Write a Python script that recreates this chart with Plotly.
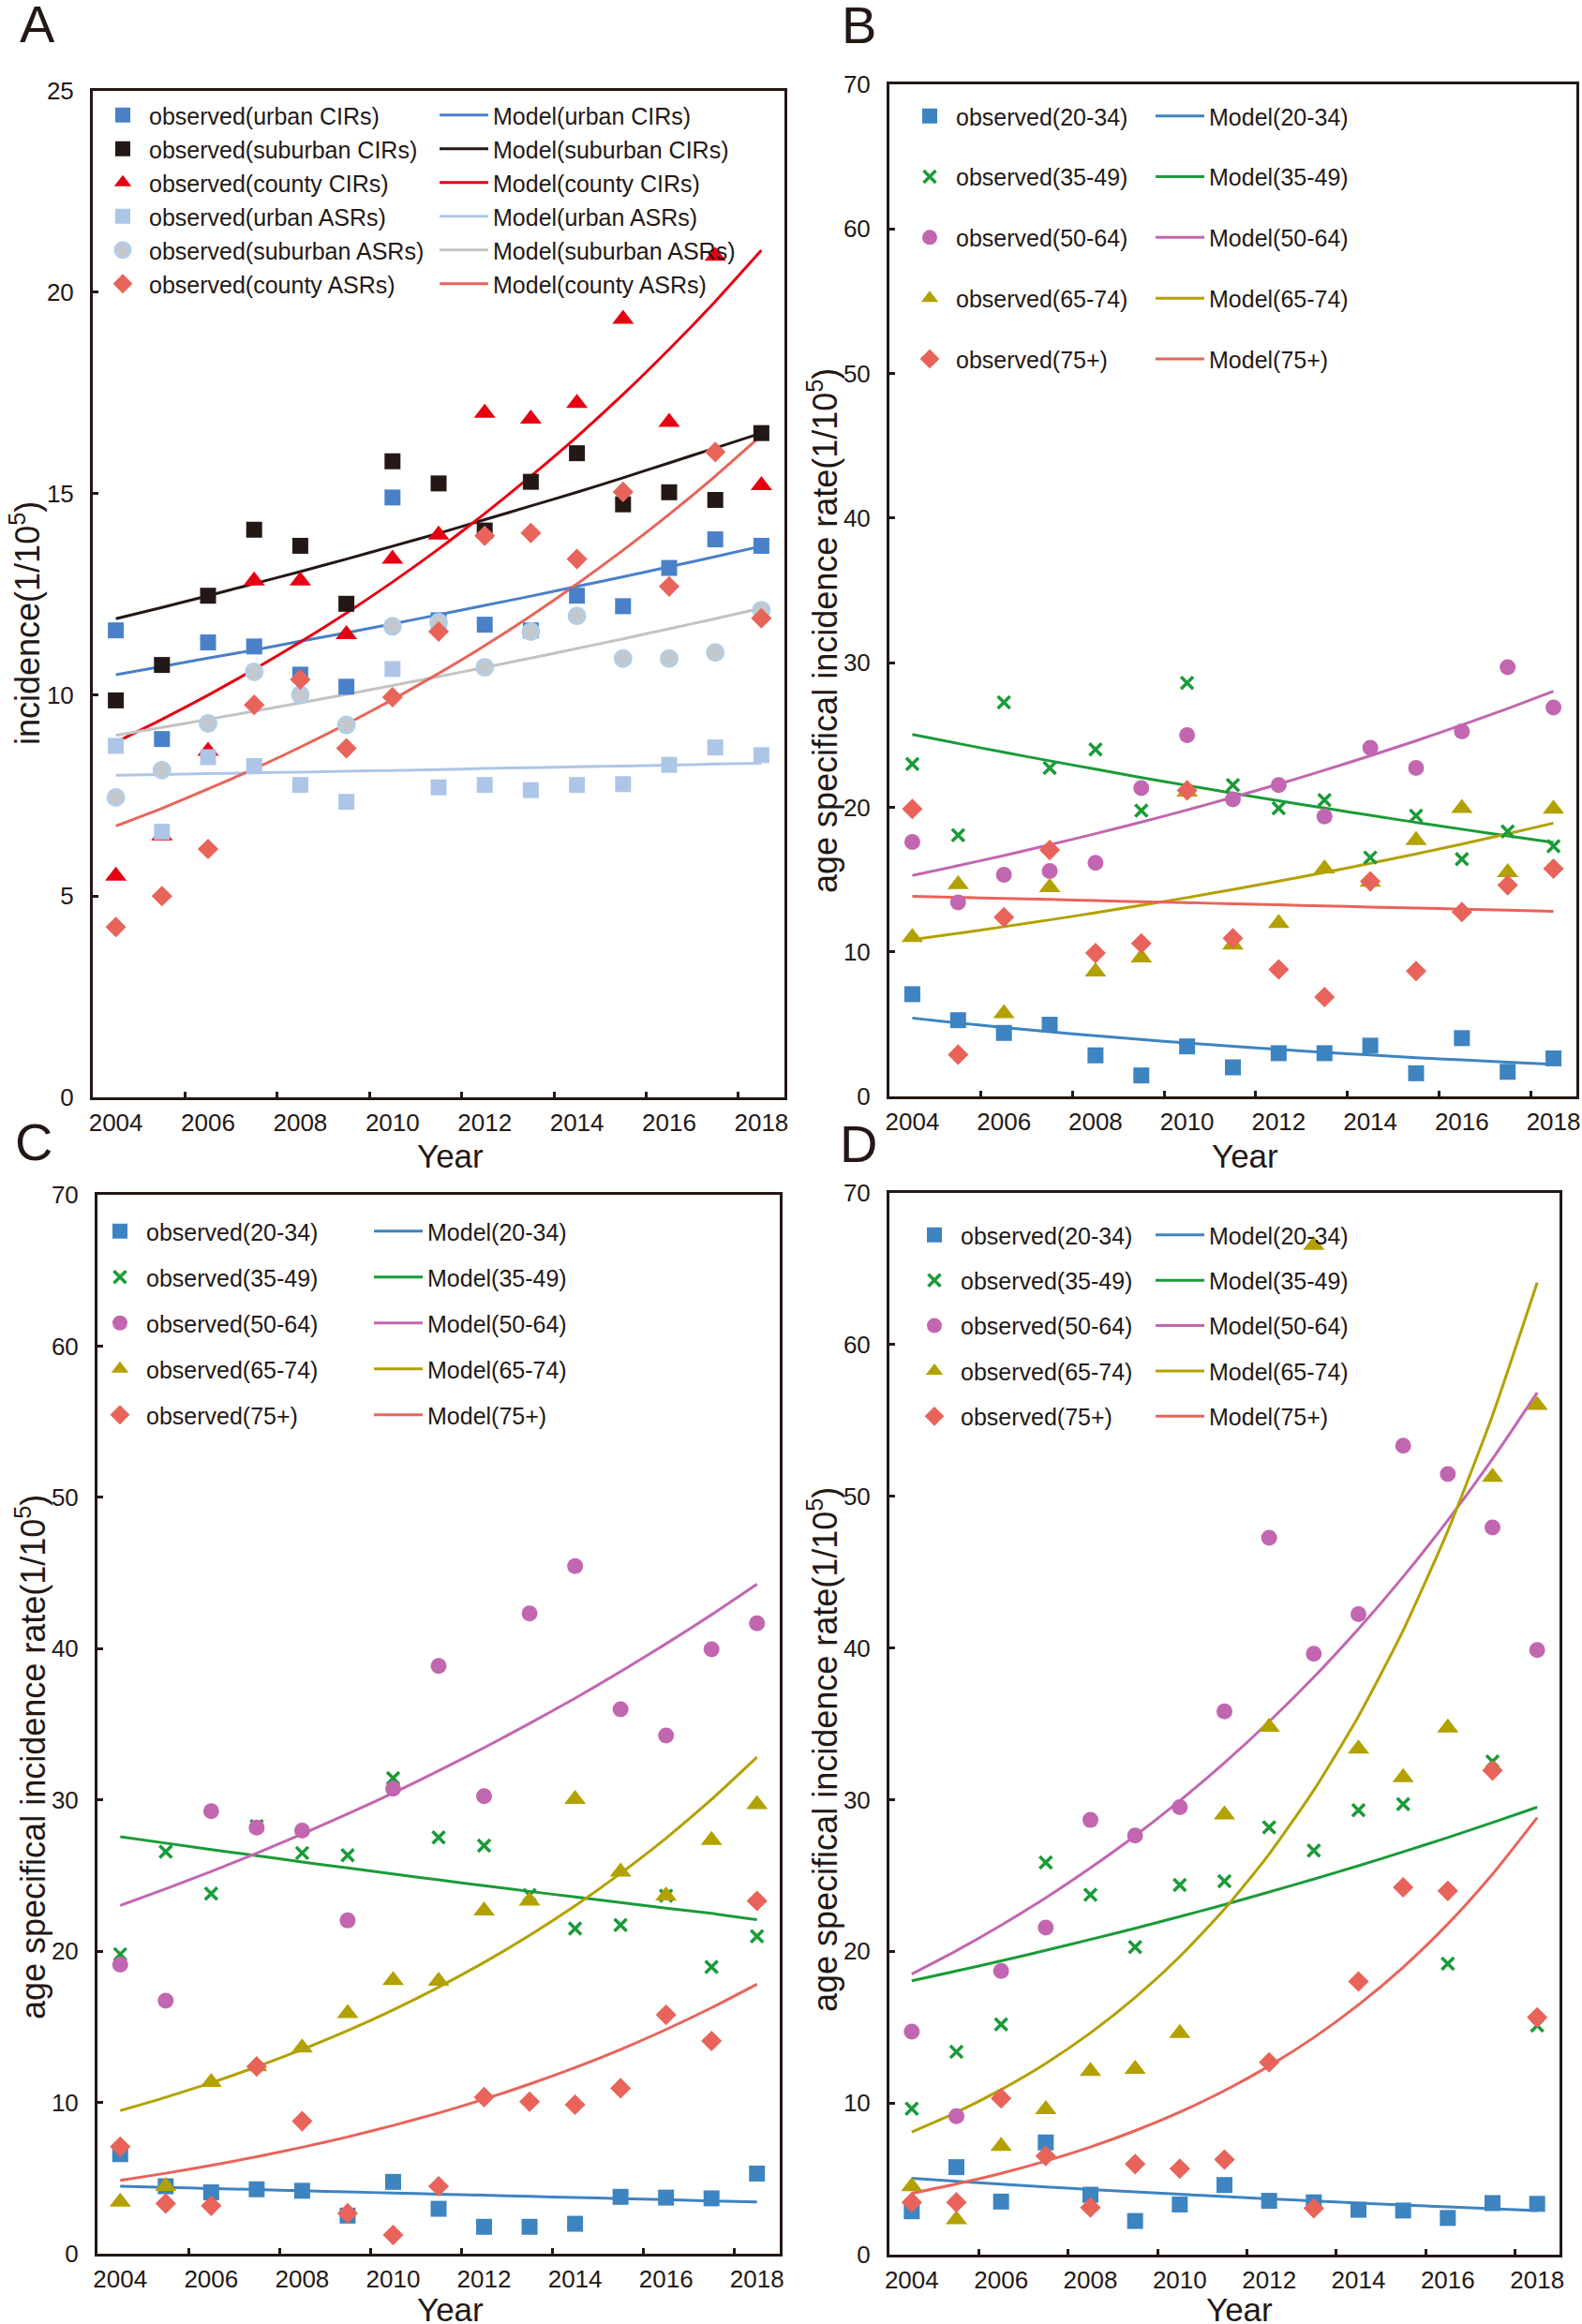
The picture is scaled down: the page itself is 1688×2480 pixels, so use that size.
import plotly.graph_objects as go

W, H = 1688, 2480
FONT = "Arial, Liberation Sans, sans-serif"
INK = "#231815"

years = list(range(2004, 2019))
label_years = [2004, 2006, 2008, 2010, 2012, 2014, 2016, 2018]
tick_marks = [2005.5, 2007.5, 2009.5, 2011.5, 2013.5, 2015.5, 2017.5]

# ---------------- Panel A ----------------
a_names = ["urban CIRs", "suburban CIRs", "county CIRs", "urban ASRs", "suburban ASRs", "county ASRs"]
a_obs_urban_cir = [11.6, 8.9, 11.3, 11.2, 10.5, 10.2, 14.9, 11.85, 11.74, 11.6, 12.46, 12.2, 13.15, 13.86, 13.7]
a_obs_suburban_cir = [9.86, 10.74, 12.46, 14.1, 13.7, 12.26, 15.8, 15.25, 14.08, 15.29, 16.0, 14.73, 15.03, 14.84, 16.5]
a_obs_county_cir = [5.5, 6.5, 8.6, 12.83, 12.83, 11.5, 13.37, 13.97, 17.0, 16.85, 17.24, 19.33, 16.77, 20.9, 15.2]
a_obs_urban_asr = [8.73, 6.6, 8.45, 8.23, 7.76, 7.34, 10.64, 7.7, 7.76, 7.63, 7.76, 7.78, 8.26, 8.69, 8.5]
a_obs_suburban_asr = [7.45, 8.13, 9.29, 10.57, 10.0, 9.25, 11.7, 11.8, 10.68, 11.57, 11.96, 10.9, 10.9, 11.05, 12.1]
a_obs_county_asr = [4.23, 5.0, 6.17, 9.75, 10.38, 8.67, 9.94, 11.57, 13.95, 14.02, 13.37, 15.04, 12.69, 16.03, 11.9]

a_mod_urban_cir = [10.50, 10.70, 10.91, 11.11, 11.33, 11.54, 11.76, 11.99, 12.22, 12.45, 12.69, 12.93, 13.18, 13.43, 13.69]
a_mod_suburban_cir = [11.89, 12.17, 12.46, 12.76, 13.06, 13.37, 13.69, 14.01, 14.35, 14.69, 15.03, 15.39, 15.76, 16.13, 16.50]
a_mod_county_cir = [8.82, 9.39, 9.99, 10.63, 11.31, 12.03, 12.80, 13.62, 14.50, 15.43, 16.41, 17.46, 18.58, 19.77, 21.04]
a_mod_urban_asr = [8.00, 8.02, 8.04, 8.06, 8.08, 8.10, 8.12, 8.14, 8.17, 8.19, 8.21, 8.23, 8.25, 8.28, 8.30]
a_mod_suburban_asr = [8.99, 9.19, 9.39, 9.59, 9.80, 10.01, 10.23, 10.45, 10.68, 10.91, 11.15, 11.39, 11.64, 11.89, 12.15]
a_mod_county_asr = [6.74, 7.18, 7.66, 8.16, 8.70, 9.27, 9.88, 10.53, 11.22, 11.96, 12.75, 13.59, 14.48, 15.43, 16.44]

# ---------------- Panels B, C, D (age groups) ----------------
age_groups = ["20-34", "35-49", "50-64", "65-74", "75+"]

b_obs_20_34 = [7.07, 5.27, 4.39, 4.96, 2.84, 1.45, 3.46, 2.01, 2.99, 2.99, 3.51, 1.6, 4.03, 1.7, 2.63]
b_obs_35_49 = [23.0, 18.07, 27.26, 22.72, 24.0, 19.77, 28.6, 21.53, 19.93, 20.5, 16.52, 19.41, 16.42, 18.33, 17.3]
b_obs_50_64 = [17.6, 13.42, 15.33, 15.59, 16.16, 21.32, 24.99, 20.55, 21.53, 19.36, 24.11, 22.72, 25.24, 29.68, 26.9]
b_obs_65_74 = [11.0, 14.66, 5.73, 14.46, 8.62, 9.6, 21.06, 10.48, 11.98, 15.75, 14.82, 17.71, 19.93, 15.49, 19.88]
b_obs_75p = [19.88, 2.89, 12.39, 17.04, 9.91, 10.58, 21.17, 10.94, 8.78, 6.87, 14.87, 8.67, 12.75, 14.61, 15.75]
b_mod_20_34 = [5.42, 5.08, 4.77, 4.47, 4.20, 3.94, 3.69, 3.46, 3.25, 3.05, 2.86, 2.68, 2.52, 2.36, 2.22]
b_mod_35_49 = [25.04, 24.41, 23.80, 23.21, 22.63, 22.06, 21.51, 20.97, 20.45, 19.94, 19.44, 18.95, 18.48, 18.02, 17.57]
b_mod_50_64 = [15.28, 15.96, 16.66, 17.40, 18.17, 18.97, 19.81, 20.69, 21.60, 22.56, 23.56, 24.60, 25.69, 26.83, 28.03]
b_mod_65_74 = [10.84, 11.28, 11.74, 12.21, 12.70, 13.22, 13.75, 14.31, 14.89, 15.49, 16.12, 16.77, 17.45, 18.16, 18.90]
b_mod_75p = [13.84, 13.77, 13.69, 13.62, 13.54, 13.47, 13.40, 13.32, 13.25, 13.17, 13.10, 13.03, 12.95, 12.88, 12.80]

c_obs_20_34 = [6.58, 4.46, 4.06, 4.26, 4.16, 2.52, 4.75, 2.97, 1.78, 1.78, 1.98, 3.76, 3.71, 3.66, 5.3]
c_obs_35_49 = [19.8, 26.58, 23.81, 28.27, 26.49, 26.34, 31.44, 27.52, 26.98, 23.71, 21.49, 21.73, 23.66, 18.96, 20.99]
c_obs_50_64 = [19.11, 16.73, 29.26, 28.17, 27.97, 22.03, 30.74, 38.86, 30.25, 42.33, 45.45, 35.99, 34.26, 39.95, 41.68]
c_obs_65_74 = [3.42, 4.46, 11.34, 12.38, 13.61, 15.89, 18.07, 18.02, 22.67, 23.32, 30.05, 25.25, 23.66, 27.33, 29.7]
c_obs_75p = [7.08, 3.32, 3.17, 12.38, 8.76, 2.67, 1.24, 4.46, 10.35, 10.05, 9.85, 10.94, 15.79, 14.06, 23.32]
c_mod_20_34 = [4.46, 4.39, 4.31, 4.24, 4.16, 4.09, 4.01, 3.94, 3.87, 3.79, 3.72, 3.64, 3.57, 3.49, 3.42]
c_mod_35_49 = [27.57, 27.14, 26.72, 26.31, 25.90, 25.50, 25.10, 24.71, 24.33, 23.95, 23.58, 23.21, 22.85, 22.50, 22.08]
c_mod_50_64 = [23.02, 24.12, 25.27, 26.48, 27.75, 29.07, 30.46, 31.92, 33.45, 35.05, 36.72, 38.48, 40.32, 42.24, 44.26]
c_mod_65_74 = [9.46, 10.34, 11.30, 12.35, 13.50, 14.75, 16.12, 17.62, 19.26, 21.05, 23.00, 25.14, 27.47, 30.03, 32.82]
c_mod_75p = [4.85, 5.32, 5.84, 6.41, 7.04, 7.72, 8.48, 9.30, 10.21, 11.21, 12.30, 13.50, 14.82, 16.26, 17.82]

d_obs_20_34 = [2.86, 5.77, 3.5, 7.4, 3.95, 2.22, 3.31, 4.59, 3.55, 3.45, 2.96, 2.91, 2.42, 3.4, 3.35]
d_obs_35_49 = [9.62, 13.37, 15.19, 25.85, 23.73, 20.28, 24.37, 24.62, 28.17, 26.64, 29.3, 29.7, 19.19, 32.51, 15.1]
d_obs_50_64 = [14.7, 9.13, 18.7, 21.56, 28.66, 27.63, 29.5, 35.82, 47.26, 39.62, 42.23, 53.33, 51.46, 47.95, 39.86]
d_obs_65_74 = [4.49, 2.32, 7.15, 9.57, 12.09, 12.23, 14.6, 29.0, 34.78, 66.55, 33.35, 31.47, 34.73, 51.26, 56.0]
d_obs_75p = [3.45, 3.45, 10.31, 6.51, 3.11, 5.97, 5.67, 6.27, 12.68, 3.06, 18.01, 24.22, 23.98, 31.92, 15.64]
d_mod_20_34 = [5.03, 4.84, 4.65, 4.47, 4.30, 4.14, 3.98, 3.83, 3.68, 3.54, 3.40, 3.27, 3.15, 3.03, 2.91]
d_mod_35_49 = [18.06, 18.70, 19.37, 20.06, 20.78, 21.52, 22.29, 23.08, 23.91, 24.76, 25.64, 26.56, 27.50, 28.49, 29.50]
d_mod_50_64 = [18.50, 20.04, 21.72, 23.53, 25.50, 27.62, 29.93, 32.43, 35.14, 38.07, 41.25, 44.69, 48.42, 52.46, 56.83]
d_mod_65_74 = [8.09, 9.38, 10.88, 12.61, 14.62, 16.95, 19.65, 22.78, 26.41, 30.62, 35.50, 41.16, 47.72, 55.33, 64.08]
d_mod_75p = [4.05, 4.66, 5.36, 6.17, 7.10, 8.17, 9.40, 10.81, 12.44, 14.31, 16.47, 18.95, 21.80, 25.08, 28.81]

# ---------------- styles ----------------
a_colors = ["#4a80c8", "#231815", "#e60012", "#adc6e8", "#bcd0e2", "#e8645a"]
a_line_colors = ["#4a80c8", "#231815", "#e60012", "#adc6e8", "#c3c3c3", "#e8645a"]
a_symbols = ["square", "square", "triangle-up", "square", "circle", "diamond"]
age_colors = ["#3d84c0", "#1a9b38", "#c266b1", "#b3a100", "#e8645a"]
age_symbols = ["square", "x-thin", "circle", "triangle-up", "diamond"]

# layout geometry in pixels (left, right, top, bottom)
panels = {
    "A": (99, 837, 97, 1171),
    "B": (949, 1682, 90, 1170),
    "C": (104, 832, 1275, 2405),
    "D": (949, 1664, 1273, 2406),
}

def px_x(p):
    return p / W

def px_y(p):
    return 1 - p / H

fig = go.Figure()

def marker_for(symbol, color):
    if symbol == "x-thin":
        return dict(symbol="x-thin", size=13, color=color, line=dict(color=color, width=3.5))
    if symbol == "circle" and color == "#bcd0e2":
        return dict(symbol="circle", size=17, color="#c4c8cc", line=dict(color="#b3cde6", width=3))
    if symbol == "circle":
        return dict(symbol="circle", size=17, color=color, line=dict(width=0))
    if symbol == "triangle-up":
        return dict(symbol=symbol, size=20, color=color, line=dict(width=0))
    if symbol == "diamond":
        return dict(symbol=symbol, size=17, color=color, line=dict(width=0))
    return dict(symbol=symbol, size=17, color=color, line=dict(width=0))

def add_panel(idx, names, obs, mods, colors, line_colors, symbols):
    xa = "x" if idx == 1 else f"x{idx}"
    ya = "y" if idx == 1 else f"y{idx}"
    leg_obs = "legend" if idx == 1 else f"legend{2 * idx - 1}"
    leg_mod = f"legend{2 * idx}"
    for i, (nm, mv) in enumerate(zip(names, mods)):
        fig.add_trace(go.Scatter(
            x=years, y=mv, mode="lines", name=f"Model({nm})",
            line=dict(color=line_colors[i], width=3, shape="spline", smoothing=0.6),
            xaxis=xa, yaxis=ya, legend=leg_mod, legendgroup=f"m{idx}_{i}",
        ))
    for i, (nm, ov) in enumerate(zip(names, obs)):
        fig.add_trace(go.Scatter(
            x=years, y=ov, mode="markers", name=f"observed({nm})",
            marker=marker_for(symbols[i], colors[i]),
            xaxis=xa, yaxis=ya, legend=leg_obs, legendgroup=f"o{idx}_{i}",
        ))

add_panel(1, a_names,
          [a_obs_urban_cir, a_obs_suburban_cir, a_obs_county_cir, a_obs_urban_asr, a_obs_suburban_asr, a_obs_county_asr],
          [a_mod_urban_cir, a_mod_suburban_cir, a_mod_county_cir, a_mod_urban_asr, a_mod_suburban_asr, a_mod_county_asr],
          a_colors, a_line_colors, a_symbols)
add_panel(2, age_groups,
          [b_obs_20_34, b_obs_35_49, b_obs_50_64, b_obs_65_74, b_obs_75p],
          [b_mod_20_34, b_mod_35_49, b_mod_50_64, b_mod_65_74, b_mod_75p],
          age_colors, age_colors, age_symbols)
add_panel(3, age_groups,
          [c_obs_20_34, c_obs_35_49, c_obs_50_64, c_obs_65_74, c_obs_75p],
          [c_mod_20_34, c_mod_35_49, c_mod_50_64, c_mod_65_74, c_mod_75p],
          age_colors, age_colors, age_symbols)
add_panel(4, age_groups,
          [d_obs_20_34, d_obs_35_49, d_obs_50_64, d_obs_65_74, d_obs_75p],
          [d_mod_20_34, d_mod_35_49, d_mod_50_64, d_mod_65_74, d_mod_75p],
          age_colors, age_colors, age_symbols)

tick_font = dict(family=FONT, size=26, color=INK)
layout = dict(
    width=W, height=H, margin=dict(l=0, r=0, t=0, b=0, autoexpand=False),
    paper_bgcolor="white", plot_bgcolor="white",
    font=dict(family=FONT, color=INK),
    showlegend=True,
)

y_ranges = {"A": (0, 25, 5), "B": (0, 70, 10), "C": (0, 70, 10), "D": (0, 70, 10)}
for k, key in enumerate(["A", "B", "C", "D"], start=1):
    l, r, t, b = panels[key]
    sx = "xaxis" if k == 1 else f"xaxis{k}"
    sy = "yaxis" if k == 1 else f"yaxis{k}"
    ya = "y" if k == 1 else f"y{k}"
    xa = "x" if k == 1 else f"x{k}"
    lo, hi, dt = y_ranges[key]
    layout[sx] = dict(
        domain=[px_x(l), px_x(r)], anchor=ya, range=[2003.5, 2018.5],
        tickmode="array", tickvals=label_years, ticktext=[str(v) for v in label_years],
        ticks="", showgrid=False, zeroline=False, automargin=False,
        showline=True, linewidth=3, linecolor=INK, mirror=True,
        tickfont=tick_font, ticklabelstandoff=2,
        minor=dict(tickmode="array", tickvals=tick_marks, ticks="inside", ticklen=6,
                   tickwidth=3, tickcolor=INK, showgrid=False),
    )
    layout[sy] = dict(
        domain=[px_y(b), px_y(t)], anchor=xa, range=[lo, hi], dtick=dt, tick0=0,
        ticks="inside", ticklen=6, tickwidth=3, tickcolor=INK,
        showgrid=False, zeroline=False, automargin=False,
        showline=True, linewidth=3, linecolor=INK, mirror=True,
        tickfont=tick_font, ticklabelstandoff=12,
    )

# legends: observed column and model column for each panel
leg_font = dict(family=FONT, size=25, color=INK)
legend_spec = {
    # idx: (obs_x, mod_x, top_y, gap)
    1: (103, 464, 100, 0.5),
    2: (964, 1228, 101, 29.3),
    3: (100, 394, 1291, 13.5),
    4: (969, 1228, 1295, 12.9),
}
for idx, (ox, mx, ty, gap) in legend_spec.items():
    lo_name = "legend" if idx == 1 else f"legend{2 * idx - 1}"
    lm_name = f"legend{2 * idx}"
    common = dict(yanchor="top", xanchor="left", y=px_y(ty), bgcolor="rgba(0,0,0,0)",
                  borderwidth=0, font=leg_font, traceorder="grouped", tracegroupgap=gap,
                  orientation="v")
    layout[lo_name] = dict(x=px_x(ox), itemwidth=46, **common)
    layout[lm_name] = dict(x=px_x(mx), itemwidth=52, **common)

fig.update_layout(**layout)

# titles and panel letters
ann = []
def add_text(text, x, y, size, angle=0):
    ann.append(dict(text=text, x=px_x(x), y=px_y(y), xref="paper", yref="paper",
                    showarrow=False, textangle=angle, xanchor="center", yanchor="middle",
                    font=dict(family=FONT, size=size, color=INK)))

for letter, (x, y) in {"A": (40, 25), "B": (916, 27), "C": (36, 1218), "D": (916, 1220)}.items():
    add_text(letter, x, y, 56)
for x, y in [(480, 1233), (1328, 1233), (480, 2464), (1322, 2464)]:
    add_text("Year", x, y, 35)
add_text("incidence(1/10<sup>5</sup>)", 27, 665, 36, angle=-90)
add_text("age specifical incidence rate(1/10<sup>5</sup>)", 878, 673, 36, angle=-90)
add_text("age specifical incidence rate(1/10<sup>5</sup>)", 33, 1875, 36, angle=-90)
add_text("age specifical incidence rate(1/10<sup>5</sup>)", 878, 1867, 36, angle=-90)
fig.update_layout(annotations=ann)

fig.write_html(
    "out.html",
    config={"displayModeBar": False},
    post_script="document.body.style.margin='0';document.documentElement.style.overflow='hidden';",
)
